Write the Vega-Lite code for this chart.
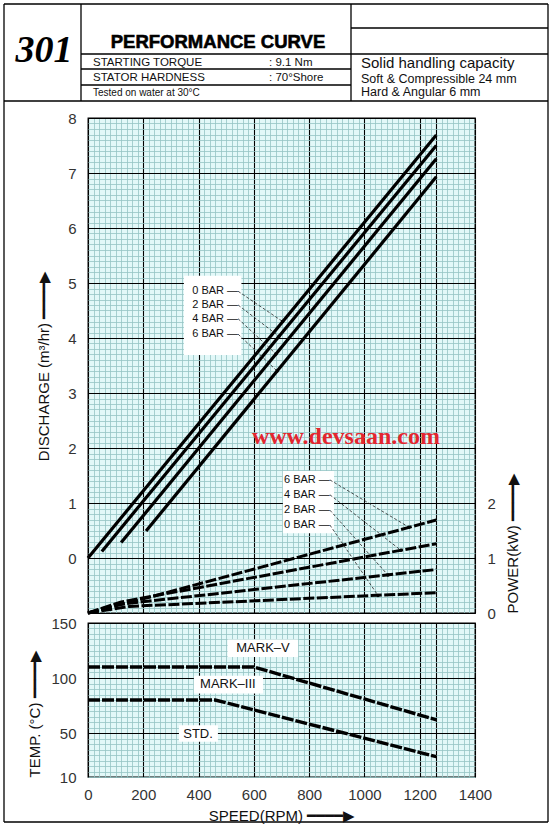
{
  "$schema": "https://vega.github.io/schema/vega-lite/v6.json",
  "padding": 3,
  "background": "white",
  "spacing": 10,
  "bounds": "flush",
  "config": {
    "font": "Liberation Sans",
    "view": {"stroke": "black", "strokeWidth": 1.2},
    "axis": {
      "labelFont": "Liberation Sans", "labelFontSize": 15, "labelColor": "#333",
      "titleFont": "Liberation Sans", "titleFontSize": 15, "titleFontWeight": "normal", "titleColor": "#111",
      "domain": false, "ticks": false, "labelFlush": false, "labelOverlap": false
    }
  },
  "datasets": {
    "frame": [
      {"c": 0, "c2": 8, "r": 0, "r2": 0},
      {"c": 0, "c2": 8, "r": 12, "r2": 12},
      {"c": 0, "c2": 8, "r": 13, "r2": 13},
      {"c": 0, "c2": 0, "r": 0, "r2": 13},
      {"c": 8, "c2": 8, "r": 0, "r2": 13},
      {"c": 2, "c2": 2, "r": 0, "r2": 12},
      {"c": 6, "c2": 6, "r": 0, "r2": 12},
      {"c": 6, "c2": 8, "r": 1, "r2": 1},
      {"c": 2, "c2": 8, "r": 3, "r2": 3},
      {"c": 2, "c2": 6, "r": 7, "r2": 7},
      {"c": 2, "c2": 6, "r": 10, "r2": 10}
    ],
    "htext": [
      {"t": "301", "c": 1, "r": 4, "k": "num"},
      {"t": "PERFORMANCE CURVE", "c": 4, "r": 2, "k": "title"},
      {"t": "STARTING TORQUE", "c": 3, "r": 5, "k": "spec"},
      {"t": ": 9.1  Nm", "c": 5, "r": 5, "k": "spec"},
      {"t": "STATOR HARDNESS", "c": 3, "r": 8, "k": "spec"},
      {"t": ": 70°Shore", "c": 5, "r": 8, "k": "spec"},
      {"t": "Tested on water at 30°C", "c": 3, "r": 11, "k": "note"},
      {"t": "Solid handling capacity", "c": 7, "r": 6, "k": "cap"},
      {"t": "Soft & Compressible 24 mm", "c": 7, "r": 9, "k": "small"},
      {"t": "Hard & Angular 6 mm", "c": 7, "r": 11, "k": "small"}
    ],
    "discharge": [
      {"bar": "0 BAR", "rpm": 0, "q": 0}, {"bar": "0 BAR", "rpm": 1260, "q": 7.69},
      {"bar": "2 BAR", "rpm": 50, "q": 0.12}, {"bar": "2 BAR", "rpm": 1260, "q": 7.5},
      {"bar": "4 BAR", "rpm": 120, "q": 0.28}, {"bar": "4 BAR", "rpm": 1260, "q": 7.26},
      {"bar": "6 BAR", "rpm": 210, "q": 0.49}, {"bar": "6 BAR", "rpm": 1260, "q": 6.93}
    ],
    "power": [
      {"bar": "6 BAR", "rpm": 0, "kw": 0}, {"bar": "6 BAR", "rpm": 210, "kw": 0.27}, {"bar": "6 BAR", "rpm": 1260, "kw": 1.69},
      {"bar": "4 BAR", "rpm": 0, "kw": 0}, {"bar": "4 BAR", "rpm": 120, "kw": 0.2}, {"bar": "4 BAR", "rpm": 1260, "kw": 1.26},
      {"bar": "2 BAR", "rpm": 0, "kw": 0}, {"bar": "2 BAR", "rpm": 100, "kw": 0.15}, {"bar": "2 BAR", "rpm": 1260, "kw": 0.79},
      {"bar": "0 BAR", "rpm": 0, "kw": 0}, {"bar": "0 BAR", "rpm": 150, "kw": 0.12}, {"bar": "0 BAR", "rpm": 1260, "kw": 0.37}
    ],
    "temp": [
      {"model": "MARK-V", "rpm": 0, "t": 110}, {"model": "MARK-V", "rpm": 600, "t": 110}, {"model": "MARK-V", "rpm": 1260, "t": 62},
      {"model": "MARK-III", "rpm": 0, "t": 80}, {"model": "MARK-III", "rpm": 460, "t": 80}, {"model": "MARK-III", "rpm": 1260, "t": 28.5}
    ],
    "qlegend": [
      {"label": "0 BAR —", "rpm": 543, "q": 4.85, "rpm2": 704, "q2": 4.30},
      {"label": "2 BAR —", "rpm": 543, "q": 4.60, "rpm2": 691, "q2": 4.03},
      {"label": "4 BAR —", "rpm": 543, "q": 4.35, "rpm2": 680, "q2": 3.71},
      {"label": "6 BAR —", "rpm": 543, "q": 4.07, "rpm2": 684, "q2": 3.40}
    ],
    "qbox": [{"rpm": 347, "rpm2": 555, "q": 5.13, "q2": 3.69}],
    "klegend": [
      {"label": "6 BAR —", "rpm": 875, "kw": 2.42, "rpm2": 1161, "kw2": 1.56},
      {"label": "4 BAR —", "rpm": 875, "kw": 2.15, "rpm2": 1132, "kw2": 1.14},
      {"label": "2 BAR —", "rpm": 875, "kw": 1.87, "rpm2": 1085, "kw2": 0.69},
      {"label": "0 BAR —", "rpm": 875, "kw": 1.60, "rpm2": 1049, "kw2": 0.32}
    ],
    "kbox": [{"rpm": 705, "rpm2": 890, "kw": 2.58, "kw2": 1.45}],
    "mark": [{"text": "www.devsaan.com", "rpm": 933, "q": 2.2}],
    "tlabels": [
      {"label": "MARK–V", "rpm": 633, "t": 127, "rpm1": 505, "rpm2": 760, "t1": 135, "t2": 119},
      {"label": "MARK–III", "rpm": 506, "t": 94.5, "rpm1": 383, "rpm2": 633, "t1": 102, "t2": 86},
      {"label": "STD.", "rpm": 398, "t": 49.5, "rpm1": 329, "rpm2": 470, "t1": 57, "t2": 42}
    ]
  },
  "vconcat": [
    {
      "width": 387,
      "height": 104,
      "view": {"stroke": null, "fill": null},
      "layer": [
        {
          "data": {"name": "frame"},
          "mark": {"type": "rule", "color": "black", "strokeWidth": 1.3},
          "encoding": {
            "x": {"field": "c", "type": "quantitative", "axis": null, "scale": {"type": "linear", "domain": [0, 1, 2, 3, 4, 5, 6, 7, 8], "range": [-84, -44, -7, 5, 130, 181, 263, 273, 460], "nice": false, "zero": false}},
            "x2": {"field": "c2"},
            "y": {"field": "r", "type": "quantitative", "axis": null, "scale": {"type": "linear", "domain": [0, 1, 2, 3, 4, 5, 6, 7, 8, 9, 10, 11, 12, 13], "range": [0, 24, 44, 50, 58, 61.5, 64, 65, 77, 79, 81, 92, 97, 818], "nice": false, "zero": false}},
            "y2": {"field": "r2"}
          }
        },
        {
          "data": {"name": "htext"},
          "transform": [{"filter": "datum.k === 'num'"}],
          "mark": {"type": "text", "font": "Liberation Serif", "fontStyle": "italic", "fontWeight": "bold", "fontSize": 38, "align": "center", "baseline": "alphabetic", "color": "black"},
          "encoding": {
            "x": {"field": "c", "type": "quantitative", "axis": null},
            "y": {"field": "r", "type": "quantitative", "axis": null},
            "text": {"field": "t"}
          }
        },
        {
          "data": {"name": "htext"},
          "transform": [{"filter": "datum.k === 'title'"}],
          "mark": {"type": "text", "font": "Liberation Sans", "fontWeight": "bold", "fontSize": 18.5, "align": "center", "baseline": "alphabetic", "color": "black", "stroke": "black", "strokeWidth": 0.6},
          "encoding": {
            "x": {"field": "c", "type": "quantitative", "axis": null},
            "y": {"field": "r", "type": "quantitative", "axis": null},
            "text": {"field": "t"}
          }
        },
        {
          "data": {"name": "htext"},
          "transform": [{"filter": "datum.k === 'spec'"}],
          "mark": {"type": "text", "font": "Liberation Sans", "fontSize": 11.5, "align": "left", "baseline": "alphabetic", "color": "#111"},
          "encoding": {
            "x": {"field": "c", "type": "quantitative", "axis": null},
            "y": {"field": "r", "type": "quantitative", "axis": null},
            "text": {"field": "t"}
          }
        },
        {
          "data": {"name": "htext"},
          "transform": [{"filter": "datum.k === 'note'"}],
          "mark": {"type": "text", "font": "Liberation Sans", "fontSize": 10, "align": "left", "baseline": "alphabetic", "color": "#111"},
          "encoding": {
            "x": {"field": "c", "type": "quantitative", "axis": null},
            "y": {"field": "r", "type": "quantitative", "axis": null},
            "text": {"field": "t"}
          }
        },
        {
          "data": {"name": "htext"},
          "transform": [{"filter": "datum.k === 'cap'"}],
          "mark": {"type": "text", "font": "Liberation Sans", "fontSize": 15, "align": "left", "baseline": "alphabetic", "color": "#111"},
          "encoding": {
            "x": {"field": "c", "type": "quantitative", "axis": null},
            "y": {"field": "r", "type": "quantitative", "axis": null},
            "text": {"field": "t"}
          }
        },
        {
          "data": {"name": "htext"},
          "transform": [{"filter": "datum.k === 'small'"}],
          "mark": {"type": "text", "font": "Liberation Sans", "fontSize": 12.5, "align": "left", "baseline": "alphabetic", "color": "#111"},
          "encoding": {
            "x": {"field": "c", "type": "quantitative", "axis": null},
            "y": {"field": "r", "type": "quantitative", "axis": null},
            "text": {"field": "t"}
          }
        }
      ]
    },
    {
      "width": 387,
      "height": 495,
      "view": {"fill": "#e2f8f8", "stroke": "black", "strokeWidth": 1.3},
      "layer": [
        {
          "layer": [
            {
              "data": {"name": "qbox"},
              "mark": {"type": "rect", "fill": "white"},
              "encoding": {
                "x": {"field": "rpm", "type": "quantitative", "scale": {"domain": [0, 1400], "nice": false, "zero": false}},
                "x2": {"field": "rpm2"},
                "y": {"field": "q", "type": "quantitative", "scale": {"domain": [-1, 8], "nice": false, "zero": false}},
                "y2": {"field": "q2"}
              }
            },
            {
              "data": {"name": "discharge"},
              "mark": {"type": "line", "color": "black", "strokeWidth": 3.2},
              "encoding": {
                "x": {
                  "field": "rpm", "type": "quantitative",
                  "scale": {"domain": [0, 1400], "nice": false, "zero": false},
                  "axis": {
                    "orient": "bottom", "title": null, "labels": false, "tickCount": 70, "grid": true,
                    "gridColor": {"condition": {"test": "datum.value % 200 === 0 || datum.value === 1260", "value": "black"}, "value": "#96c4c4"},
                    "gridWidth": {"condition": {"test": "datum.value % 200 === 0 || datum.value === 1260", "value": 1.1}, "value": 0.8}
                  }
                },
                "y": {
                  "field": "q", "type": "quantitative",
                  "scale": {"domain": [-1, 8], "nice": false, "zero": false},
                  "axis": {
                    "orient": "left", "tickCount": 90, "grid": true,
                    "gridColor": {"condition": {"test": "abs(datum.value - round(datum.value)) < 0.001", "value": "black"}, "value": "#96c4c4"},
                    "gridWidth": {"condition": {"test": "abs(datum.value - round(datum.value)) < 0.001", "value": 1.1}, "value": 0.8},
                    "labelExpr": "abs(datum.value - round(datum.value)) < 0.001 && datum.value > -0.5 ? '' + round(datum.value) : ''",
                    "labelPadding": 12,
                    "title": "DISCHARGE (m³/hr)   ━━━━▶",
                    "titlePadding": 16
                  }
                },
                "detail": {"field": "bar"}
              }
            },
            {
              "data": {"name": "qlegend"},
              "mark": {"type": "rule", "color": "#222", "strokeWidth": 0.8, "strokeDash": [3, 2]},
              "encoding": {
                "x": {"field": "rpm", "type": "quantitative", "scale": {"domain": [0, 1400], "nice": false, "zero": false}},
                "x2": {"field": "rpm2"},
                "y": {"field": "q", "type": "quantitative", "scale": {"domain": [-1, 8], "nice": false, "zero": false}},
                "y2": {"field": "q2"}
              }
            },
            {
              "data": {"name": "qlegend"},
              "mark": {"type": "point", "filled": true, "color": "black", "size": 12, "opacity": 1},
              "encoding": {
                "x": {"field": "rpm2", "type": "quantitative", "scale": {"domain": [0, 1400], "nice": false, "zero": false}},
                "y": {"field": "q2", "type": "quantitative", "scale": {"domain": [-1, 8], "nice": false, "zero": false}}
              }
            },
            {
              "data": {"name": "qlegend"},
              "mark": {"type": "text", "align": "right", "baseline": "middle", "fontSize": 11, "font": "Liberation Sans", "color": "#111"},
              "encoding": {
                "x": {"field": "rpm", "type": "quantitative", "scale": {"domain": [0, 1400], "nice": false, "zero": false}},
                "y": {"field": "q", "type": "quantitative", "scale": {"domain": [-1, 8], "nice": false, "zero": false}},
                "text": {"field": "label"}
              }
            },
            {
              "data": {"name": "mark"},
              "mark": {"type": "text", "align": "center", "baseline": "middle", "fontSize": 24, "font": "Liberation Serif", "fontWeight": "bold", "color": "#e3262f"},
              "encoding": {
                "x": {"field": "rpm", "type": "quantitative", "scale": {"domain": [0, 1400], "nice": false, "zero": false}},
                "y": {"field": "q", "type": "quantitative", "scale": {"domain": [-1, 8], "nice": false, "zero": false}},
                "text": {"field": "text"}
              }
            }
          ]
        },
        {
          "layer": [
            {
              "data": {"name": "kbox"},
              "mark": {"type": "rect", "fill": "white"},
              "encoding": {
                "x": {"field": "rpm", "type": "quantitative", "scale": {"domain": [0, 1400], "nice": false, "zero": false}},
                "x2": {"field": "rpm2"},
                "y": {"field": "kw", "type": "quantitative", "scale": {"domain": [0, 9], "nice": false, "zero": false}},
                "y2": {"field": "kw2"}
              }
            },
            {
              "data": {"name": "power"},
              "mark": {"type": "line", "color": "black", "strokeWidth": 3, "strokeDash": [11, 2.5]},
              "encoding": {
                "x": {"field": "rpm", "type": "quantitative", "scale": {"domain": [0, 1400], "nice": false, "zero": false}},
                "y": {
                  "field": "kw", "type": "quantitative",
                  "scale": {"domain": [0, 9], "nice": false, "zero": false},
                  "axis": {"orient": "right", "values": [0, 1, 2], "format": "d", "grid": false, "labelPadding": 12, "title": "POWER(kW)   ━━━━▶", "titleAngle": -90, "titleAnchor": "start", "titlePadding": 25}
                },
                "detail": {"field": "bar"}
              }
            },
            {
              "data": {"name": "klegend"},
              "mark": {"type": "rule", "color": "#222", "strokeWidth": 0.8, "strokeDash": [3, 2]},
              "encoding": {
                "x": {"field": "rpm", "type": "quantitative", "scale": {"domain": [0, 1400], "nice": false, "zero": false}},
                "x2": {"field": "rpm2"},
                "y": {"field": "kw", "type": "quantitative", "scale": {"domain": [0, 9], "nice": false, "zero": false}},
                "y2": {"field": "kw2"}
              }
            },
            {
              "data": {"name": "klegend"},
              "mark": {"type": "point", "filled": true, "color": "black", "size": 12, "opacity": 1},
              "encoding": {
                "x": {"field": "rpm2", "type": "quantitative", "scale": {"domain": [0, 1400], "nice": false, "zero": false}},
                "y": {"field": "kw2", "type": "quantitative", "scale": {"domain": [0, 9], "nice": false, "zero": false}}
              }
            },
            {
              "data": {"name": "klegend"},
              "mark": {"type": "text", "align": "right", "baseline": "middle", "fontSize": 11, "font": "Liberation Sans", "color": "#111"},
              "encoding": {
                "x": {"field": "rpm", "type": "quantitative", "scale": {"domain": [0, 1400], "nice": false, "zero": false}},
                "y": {"field": "kw", "type": "quantitative", "scale": {"domain": [0, 9], "nice": false, "zero": false}},
                "text": {"field": "label"}
              }
            }
          ]
        }
      ],
      "resolve": {"scale": {"y": "independent"}}
    },
    {
      "width": 387,
      "height": 154,
      "view": {"fill": "#e2f8f8", "stroke": "black", "strokeWidth": 1.3},
      "layer": [
        {
          "data": {"name": "tlabels"},
          "mark": {"type": "rect", "fill": "white"},
          "encoding": {
            "x": {"field": "rpm1", "type": "quantitative", "scale": {"domain": [0, 1400], "nice": false, "zero": false}},
            "x2": {"field": "rpm2"},
            "y": {"field": "t1", "type": "quantitative", "scale": {"domain": [10, 150], "nice": false, "zero": false}},
            "y2": {"field": "t2"}
          }
        },
        {
          "data": {"name": "temp"},
          "mark": {"type": "line", "color": "black", "strokeWidth": 3.4, "strokeDash": [12, 2]},
          "encoding": {
            "x": {
              "field": "rpm", "type": "quantitative",
              "scale": {"domain": [0, 1400], "nice": false, "zero": false},
              "axis": {
                "orient": "bottom", "tickCount": 70, "grid": true,
                "gridColor": {"condition": {"test": "datum.value % 200 === 0 || datum.value === 1260", "value": "black"}, "value": "#96c4c4"},
                "gridWidth": {"condition": {"test": "datum.value % 200 === 0 || datum.value === 1260", "value": 1.1}, "value": 0.8},
                "labelExpr": "datum.value % 200 === 0 ? '' + datum.value : ''",
                "labelPadding": 10,
                "title": "SPEED(RPM)   ━━━━▶",
                "titlePadding": 6
              }
            },
            "y": {
              "field": "t", "type": "quantitative",
              "scale": {"domain": [10, 150], "nice": false, "zero": false},
              "axis": {
                "orient": "left", "tickCount": 28, "grid": true,
                "gridColor": {"condition": {"test": "datum.value % 50 === 0", "value": "black"}, "value": "#96c4c4"},
                "gridWidth": {"condition": {"test": "datum.value % 50 === 0", "value": 1.1}, "value": 0.8},
                "labelExpr": "datum.value % 50 === 0 || datum.value === 10 ? '' + datum.value : ''",
                "labelPadding": 12,
                "title": "TEMP. (°C)   ━━━━▶",
                "titleAnchor": "start",
                "titlePadding": 8
              }
            },
            "detail": {"field": "model"}
          }
        },
        {
          "data": {"name": "tlabels"},
          "mark": {"type": "text", "align": "center", "baseline": "middle", "fontSize": 13, "font": "Liberation Sans", "color": "#111"},
          "encoding": {
            "x": {"field": "rpm", "type": "quantitative", "scale": {"domain": [0, 1400], "nice": false, "zero": false}},
            "y": {"field": "t", "type": "quantitative", "scale": {"domain": [10, 150], "nice": false, "zero": false}},
            "text": {"field": "label"}
          }
        }
      ]
    }
  ]
}
